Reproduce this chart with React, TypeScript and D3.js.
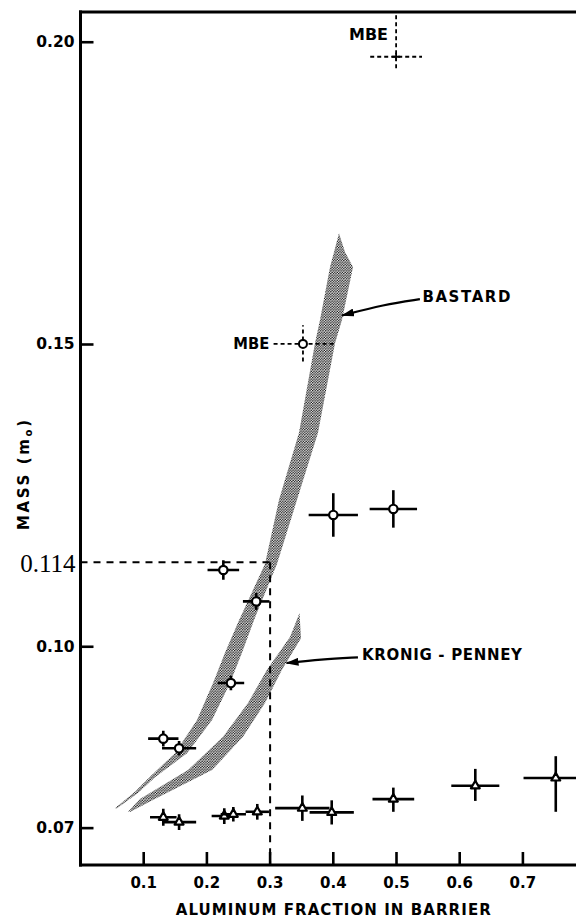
import React from 'react';
import * as d3 from 'd3';

const W = 576;
const H = 920;

// Axis ticks
const xTicks = [0.1, 0.2, 0.3, 0.4, 0.5, 0.6, 0.7];
const xTickLabels = ['0.1', '0.2', '0.3', '0.4', '0.5', '0.6', '0.7'];
const yTicks = [0.07, 0.1, 0.15, 0.2];
const yTickLabels = ['0.07', '0.10', '0.15', '0.20'];

// Circles: upper series
const circleX = [0.131, 0.156, 0.238, 0.226, 0.278, 0.4, 0.495];
const circleMass = [0.0848, 0.0832, 0.094, 0.1127, 0.1075, 0.1218, 0.1228];
const circleXErr = [0.024, 0.027, 0.021, 0.025, 0.021, 0.039, 0.0375];
const circleMassErr = [0.0013, 0.0012, 0.0012, 0.0016, 0.0014, 0.0036, 0.0031];

// Triangles: lower series
const triX = [0.131, 0.156, 0.2275, 0.2418, 0.2797, 0.351, 0.3975, 0.495, 0.6247, 0.752];
const triMass = [0.0718, 0.071, 0.072, 0.0723, 0.0727, 0.0733, 0.0726, 0.0748, 0.077, 0.0783];
const triXErr = [0.021, 0.027, 0.02, 0.02, 0.0185, 0.043, 0.035, 0.033, 0.038, 0.051];
const triMassErrUp = [0.0014, 0.0013, 0.0013, 0.0012, 0.0013, 0.0021, 0.002, 0.0019, 0.0028, 0.0036];
const triMassErrDown = [0.0014, 0.0013, 0.0013, 0.0012, 0.0013, 0.0021, 0.002, 0.0021, 0.0025, 0.0056];

// MBE samples (dashed error bars)
const mbeX = [0.352, 0.4994];
const mbeMass = [0.1501, 0.1976];
const mbeXErrLeft = [0.0465, 0.041];
const mbeXErrRight = [0.051, 0.041];
const mbeMassErrUp = [0.0031, 0.009];
const mbeMassErrDown = [0.0029, 0.0019];
const mbeMarker = ['circle', 'none'];

// Bastard band edges (upper-left edge, lower-right edge)
const bastardUpperX = [0.0546, 0.0862, 0.11, 0.1495, 0.1843, 0.2097, 0.2286, 0.2508, 0.2919, 0.3141, 0.3457, 0.371, 0.379, 0.3948, 0.409];
const bastardUpperM = [0.0733, 0.076, 0.0785, 0.0824, 0.0879, 0.094, 0.099, 0.1044, 0.1137, 0.1243, 0.1354, 0.1502, 0.1541, 0.1628, 0.1684];
const bastardLowerX = [0.0578, 0.0909, 0.1179, 0.1685, 0.2081, 0.2366, 0.2555, 0.2745, 0.3109, 0.3426, 0.3758, 0.4027, 0.4138, 0.4312, 0.4185];
const bastardLowerM = [0.0733, 0.0758, 0.0784, 0.0824, 0.0879, 0.094, 0.099, 0.1044, 0.1137, 0.1243, 0.1354, 0.1502, 0.1541, 0.1628, 0.1653];

// Kronig-Penney band edges
const kpUpperX = [0.0752, 0.0941, 0.1701, 0.2255, 0.265, 0.2951, 0.3315, 0.3465];
const kpUpperM = [0.0727, 0.0748, 0.0796, 0.0851, 0.0907, 0.0962, 0.1016, 0.1056];
const kpLowerX = [0.079, 0.1115, 0.2081, 0.2571, 0.2919, 0.3188, 0.3489];
const kpLowerM = [0.0727, 0.0745, 0.0796, 0.0851, 0.0907, 0.0962, 0.1014];

// Guide at x = 0.3
const guideX = 0.3;
const guideMass = 0.114;

// Annotation anchors (data units)
const bastardArrowX = [0.537, 0.48, 0.4138];
const bastardArrowM = [0.1575, 0.1566, 0.1548];
const kpArrowX = [0.439, 0.38, 0.326];
const kpArrowM = [0.09826, 0.0979, 0.09731];

const LETTER = "'DejaVu Sans', sans-serif";

export default function App() {
  const x = d3.scaleLinear().domain([0, 0.8]).range([80.5, 586.1]);
  const y = d3.scaleLinear().domain([0.0639, 0.205]).range([865, 12]);

  const x0 = x(0);
  const yTop = y(0.205);
  const yBot = y(0.0639);
  const xRight = x(0.8);

  const bandPath = (ux: number[], um: number[], lx: number[], lm: number[]) => {
    const pts: [number, number][] = [];
    ux.forEach((v, i) => pts.push([x(v), y(um[i])]));
    for (let i = lx.length - 1; i >= 0; i--) pts.push([x(lx[i]), y(lm[i])]);
    return d3.line().curve(d3.curveLinearClosed)(pts) as string;
  };

  const arrowPath = (ax: number[], am: number[]) =>
    d3.line().curve(d3.curveBasis)(ax.map((v, i) => [x(v), y(am[i])] as [number, number])) as string;

  const tri = d3.symbol().type(d3.symbolTriangle).size(34)() as string;

  return (
    <svg
      width={W}
      height={H}
      viewBox={`0 0 ${W} ${H}`}
      style={{ position: 'absolute', left: 0, top: 0, background: '#fff' }}
    >
      <defs>
        <pattern id="stipple" patternUnits="userSpaceOnUse" width="2.6" height="2.6">
          <circle cx="0.65" cy="0.65" r="0.75" fill="#000" />
          <circle cx="1.95" cy="1.95" r="0.75" fill="#000" />
        </pattern>
        <clipPath id="plot">
          <rect x={x0} y={yTop} width={xRight - x0} height={yBot - yTop} />
        </clipPath>
        <marker id="head" viewBox="0 0 13 8" refX="12" refY="4" markerWidth="13" markerHeight="8" markerUnits="userSpaceOnUse" orient="auto">
          <path d="M0,0 L13,4 L0,8 Z" fill="#000" />
        </marker>
      </defs>

      {/* theory bands */}
      <path d={bandPath(bastardUpperX, bastardUpperM, bastardLowerX, bastardLowerM)} fill="url(#stipple)" />
      <path d={bandPath(kpUpperX, kpUpperM, kpLowerX, kpLowerM)} fill="url(#stipple)" />

      {/* guide lines */}
      <g stroke="#000" strokeWidth={2} strokeDasharray="7 6" fill="none">
        <line x1={x0} x2={x(guideX)} y1={y(guideMass)} y2={y(guideMass)} />
        <line x1={x(guideX)} x2={x(guideX)} y1={y(guideMass)} y2={yBot} />
      </g>

      <g clipPath="url(#plot)">
        {/* circle series */}
        {circleX.map((v, i) => (
          <g key={`c${i}`} stroke="#000" strokeWidth={2.6}>
            <line x1={x(v - circleXErr[i])} x2={x(v + circleXErr[i])} y1={y(circleMass[i])} y2={y(circleMass[i])} />
            <line x1={x(v)} x2={x(v)} y1={y(circleMass[i] - circleMassErr[i])} y2={y(circleMass[i] + circleMassErr[i])} />
            <circle cx={x(v)} cy={y(circleMass[i])} r={4.2} fill="#fff" strokeWidth={2.2} />
          </g>
        ))}
        {/* triangle series */}
        {triX.map((v, i) => (
          <g key={`t${i}`} stroke="#000" strokeWidth={2.6}>
            <line x1={x(v - triXErr[i])} x2={x(v + triXErr[i])} y1={y(triMass[i])} y2={y(triMass[i])} />
            <line x1={x(v)} x2={x(v)} y1={y(triMass[i] - triMassErrDown[i])} y2={y(triMass[i] + triMassErrUp[i])} />
            <path d={tri} transform={`translate(${x(v)},${y(triMass[i])})`} fill="#fff" strokeWidth={2.2} strokeLinejoin="round" />
          </g>
        ))}
        {/* MBE samples */}
        {mbeX.map((v, i) => (
          <g key={`m${i}`} stroke="#000" strokeWidth={1.8} strokeDasharray="4 3">
            <line x1={x(v - mbeXErrLeft[i])} x2={x(v + mbeXErrRight[i])} y1={y(mbeMass[i])} y2={y(mbeMass[i])} />
            <line x1={x(v)} x2={x(v)} y1={y(mbeMass[i] - mbeMassErrDown[i])} y2={y(mbeMass[i] + mbeMassErrUp[i])} />
            {mbeMarker[i] === 'circle' ? (
              <circle cx={x(v)} cy={y(mbeMass[i])} r={4} fill="#fff" strokeWidth={2} strokeDasharray="none" />
            ) : (
              <g strokeDasharray="none" strokeWidth={1.8}>
                <line x1={x(v) - 4} x2={x(v) + 4} y1={y(mbeMass[i])} y2={y(mbeMass[i])} />
                <line x1={x(v)} x2={x(v)} y1={y(mbeMass[i]) - 4} y2={y(mbeMass[i]) + 4} />
              </g>
            )}
          </g>
        ))}
      </g>

      {/* frame */}
      <g stroke="#000" strokeWidth={3} fill="none" strokeLinecap="square">
        <line x1={x0} x2={x0} y1={yTop} y2={yBot} />
        <line x1={x0} x2={xRight} y1={yTop} y2={yTop} />
        <line x1={x0} x2={xRight} y1={yBot} y2={yBot} />
      </g>

      {/* y ticks */}
      {yTicks.map((t, i) => (
        <g key={`yt${i}`}>
          <line x1={x0} x2={x0 + 13} y1={y(t)} y2={y(t)} stroke="#000" strokeWidth={2.6} />
          <text x={x0 - 6} y={y(t)} textAnchor="end" dominantBaseline="central" fontFamily={LETTER} fontWeight="bold" fontSize={15.5}>
            {yTickLabels[i]}
          </text>
        </g>
      ))}
      <text x={x0 - 5} y={y(guideMass) + 1} textAnchor="end" dominantBaseline="central" fontFamily="'Liberation Serif', 'Times New Roman', serif" fontSize={25}>
        0.114
      </text>

      {/* x ticks */}
      {xTicks.map((t, i) => (
        <g key={`xt${i}`}>
          <line x1={x(t)} x2={x(t)} y1={yBot} y2={yBot - 13} stroke="#000" strokeWidth={2.6} />
          <text x={x(t)} y={yBot + 18} textAnchor="middle" dominantBaseline="central" fontFamily={LETTER} fontWeight="bold" fontSize={15}>
            {xTickLabels[i]}
          </text>
        </g>
      ))}

      {/* axis titles */}
      <text x={x(0.4)} y={910} textAnchor="middle" dominantBaseline="central" fontFamily={LETTER} fontWeight="bold" fontSize={15} textLength={315} lengthAdjust="spacing">
        ALUMINUM FRACTION IN BARRIER
      </text>
      <text transform={`translate(24,${475}) rotate(-90)`} textAnchor="middle" dominantBaseline="central" fontFamily={LETTER} fontWeight="bold" fontSize={15} textLength={110} lengthAdjust="spacing">
        MASS (m<tspan fontSize={10} dy={4}>o</tspan><tspan dy={-4}>)</tspan>
      </text>

      {/* annotations */}
      <path d={arrowPath(bastardArrowX, bastardArrowM)} stroke="#000" strokeWidth={2.2} fill="none" markerEnd="url(#head)" />
      <text x={x(0.541)} y={y(0.1579)} dominantBaseline="central" fontFamily={LETTER} fontWeight="bold" fontSize={15} textLength={88} lengthAdjust="spacing">
        BASTARD
      </text>
      <path d={arrowPath(kpArrowX, kpArrowM)} stroke="#000" strokeWidth={2.2} fill="none" markerEnd="url(#head)" />
      <text x={x(0.4454)} y={y(0.09864)} dominantBaseline="central" fontFamily={LETTER} fontWeight="bold" fontSize={15} textLength={160} lengthAdjust="spacing">
        KRONIG - PENNEY
      </text>
      <text x={x(0.2987)} y={y(0.15)} textAnchor="end" dominantBaseline="central" fontFamily={LETTER} fontWeight="bold" fontSize={15} textLength={36} lengthAdjust="spacingAndGlyphs">
        MBE
      </text>
      <text x={x(0.4866)} y={y(0.2012)} textAnchor="end" dominantBaseline="central" fontFamily={LETTER} fontWeight="bold" fontSize={15} textLength={39} lengthAdjust="spacingAndGlyphs">
        MBE
      </text>
    </svg>
  );
}
